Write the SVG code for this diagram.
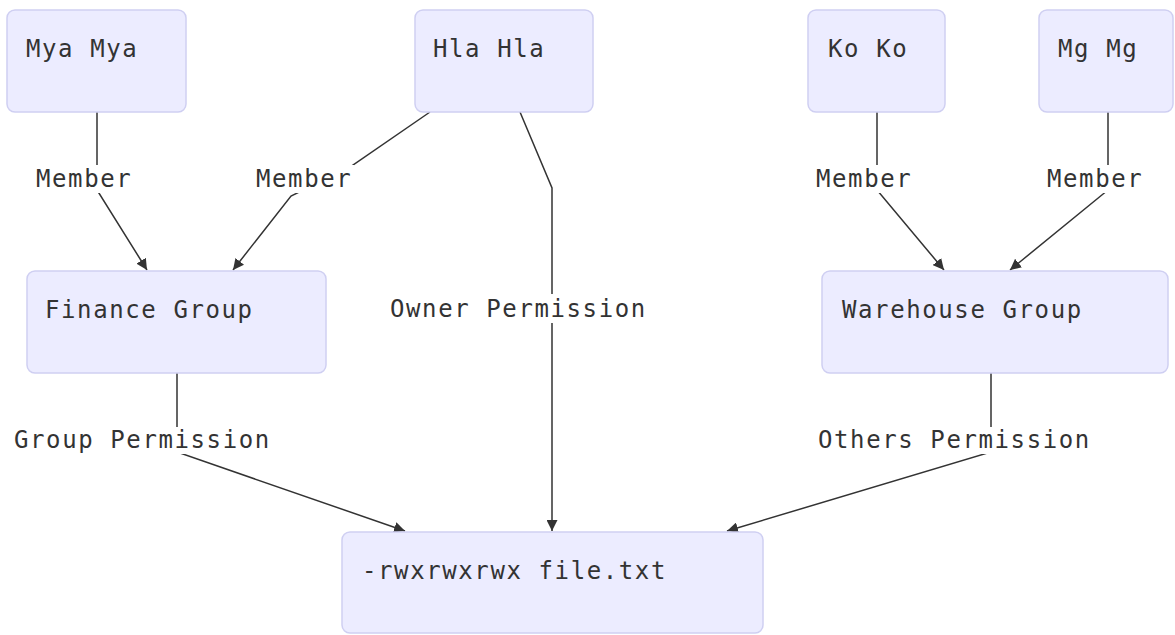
<svg xmlns="http://www.w3.org/2000/svg" width="1175" height="635" viewBox="0 0 1175 635">
  <style>
    .node rect { fill: #ececff; stroke: #cfcff2; stroke-width: 1.5; }
    .node text, .label text { font-family: "DejaVu Sans Mono", "Liberation Mono", monospace; font-size: 24px; letter-spacing: 1.6px; fill: #333333; }
    .edge { fill: none; stroke: #333333; stroke-width: 1.5; marker-end: url(#arrow); }
    .label rect { fill: #ffffff; }
  </style>
  <defs>
    <marker id="arrow" viewBox="0 0 10 10" refX="10" refY="5" markerUnits="userSpaceOnUse" markerWidth="11" markerHeight="11" orient="auto">
      <path d="M0,0 L10,5 L0,10 z" fill="#333333"/>
    </marker>
  </defs>
  <rect width="1175" height="635" fill="#ffffff"/>

  <!-- connectors -->
  <g id="edges">
    <path class="edge" d="M97,112 L97,190 L147,270"/>
    <path class="edge" d="M430,112 L350,167 L291,196 L233,270"/>
    <path class="edge" d="M520,112 L552,188 L552,531"/>
    <path class="edge" d="M877,112 L877,190 L944,270"/>
    <path class="edge" d="M1108,112 L1108,190 L1010,270"/>
    <path class="edge" d="M177,373 L177,452 L405,531"/>
    <path class="edge" d="M991,373 L991,452 L727,531"/>
  </g>

  <!-- connector labels -->
  <g id="edge-labels">
    <g class="label"><rect x="33" y="165" width="102" height="28"/><text x="36" y="187">Member</text></g>
    <g class="label"><rect x="253" y="165" width="101" height="28"/><text x="256" y="187">Member</text></g>
    <g class="label"><rect x="387" y="294" width="265" height="29"/><text x="390" y="317">Owner Permission</text></g>
    <g class="label"><rect x="813" y="165" width="102" height="28"/><text x="816" y="187">Member</text></g>
    <g class="label"><rect x="1044" y="165" width="101" height="28"/><text x="1047" y="187">Member</text></g>
    <g class="label"><rect x="11" y="427" width="265" height="27"/><text x="14" y="448">Group Permission</text></g>
    <g class="label"><rect x="815" y="427" width="282" height="27"/><text x="818" y="448">Others Permission</text></g>
  </g>

  <!-- nodes -->
  <g id="mya-mya" class="node"><rect x="7" y="10" width="179" height="102" rx="8"/><text x="26" y="57">Mya Mya</text></g>
  <g id="hla-hla" class="node"><rect x="415" y="10" width="178" height="102" rx="8"/><text x="433" y="57">Hla Hla</text></g>
  <g id="ko-ko" class="node"><rect x="808" y="10" width="137" height="102" rx="8"/><text x="828" y="57">Ko Ko</text></g>
  <g id="mg-mg" class="node"><rect x="1039" y="10" width="134" height="102" rx="8"/><text x="1058" y="57">Mg Mg</text></g>
  <g id="finance-group" class="node"><rect x="27" y="271" width="299" height="102" rx="8"/><text x="45" y="318">Finance Group</text></g>
  <g id="warehouse-group" class="node"><rect x="822" y="271" width="346" height="102" rx="8"/><text x="842" y="318">Warehouse Group</text></g>
  <g id="file" class="node"><rect x="342" y="532" width="421" height="101" rx="8"/><text x="362" y="579">-rwxrwxrwx file.txt</text></g>
</svg>
